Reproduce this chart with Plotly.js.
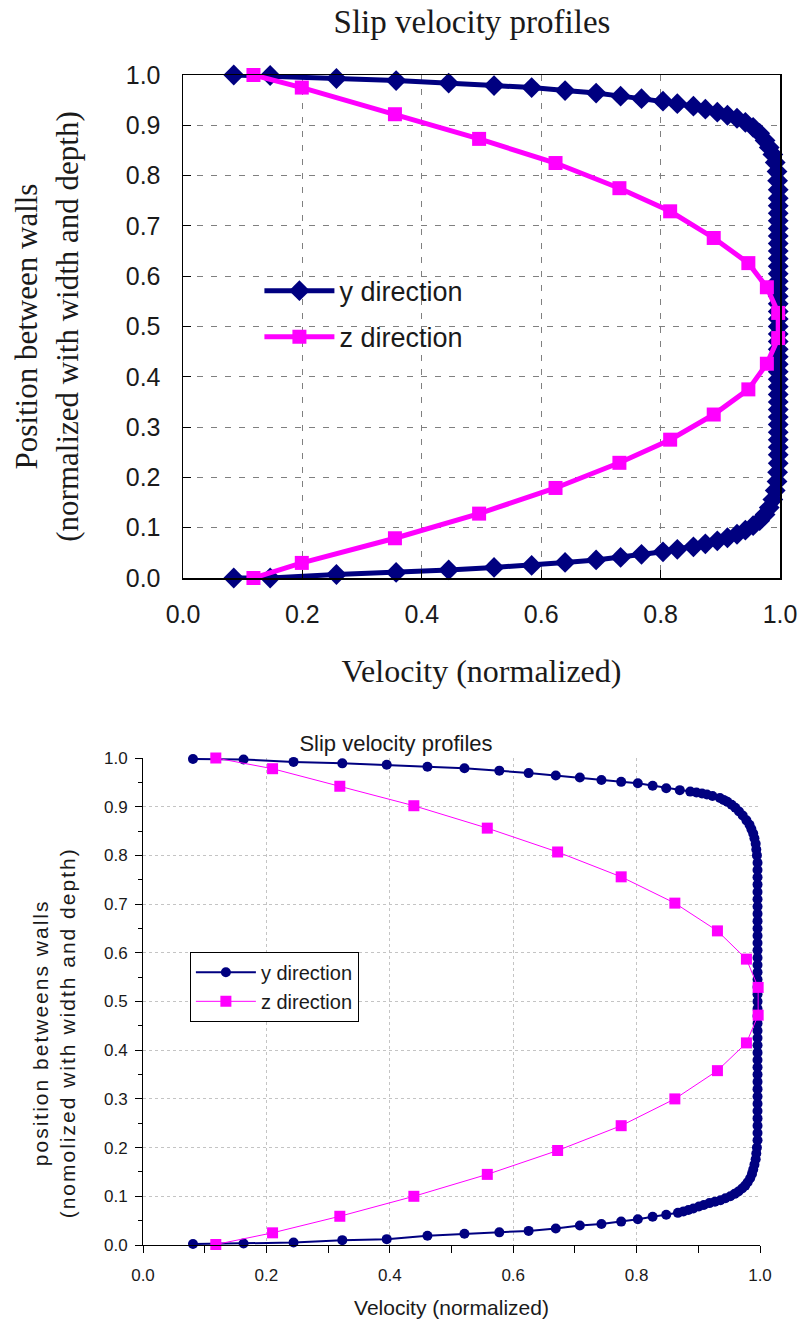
<!DOCTYPE html>
<html>
<head>
<meta charset="utf-8">
<script src="https://cdn.plot.ly/plotly-3.0.1.min.js"></script>
<style>
  html, body { margin: 0; padding: 0; background: #ffffff; }
  #top { position: absolute; left: 0; top: 0; width: 802px; height: 705px; }
  #bottom { position: absolute; left: 0; top: 705px; width: 802px; height: 622px; }
  #bottom .ytitle { letter-spacing: 2px; }
</style>
</head>
<body>
<div id="top"></div>
<div id="bottom"></div>
<script>
// ---------- Upper chart data ----------
const topTitle = "Slip velocity profiles";
const topXTitle = "Velocity (normalized)";
const topYTitle = "Position between walls<br>(normalized with width and depth)";
const seriesNames = ["y direction", "z direction"];

const topYDirVelocity = [
  0.085, 0.146, 0.257, 0.357, 0.445, 0.521, 0.584, 0.640, 0.692, 0.733,
  0.768, 0.804, 0.828, 0.855, 0.875, 0.895, 0.912, 0.928, 0.942, 0.955,
  0.966, 0.975, 0.982, 0.988, 0.992, 0.995, 0.996, 0.997,
  0.997, 0.997, 0.997, 0.997, 0.997, 0.997, 0.997, 0.997, 0.997, 0.997,
  0.997, 0.997, 0.997, 0.997, 0.997, 0.997, 0.997, 0.997, 0.997, 0.997,
  0.997, 0.997, 0.997, 0.997, 0.997, 0.997, 0.997, 0.997, 0.997, 0.997,
  0.997, 0.997, 0.997, 0.997, 0.997,
  0.997, 0.996, 0.995, 0.992, 0.988, 0.982, 0.975, 0.966, 0.955, 0.942,
  0.928, 0.912, 0.895, 0.875, 0.855, 0.828, 0.804, 0.768, 0.733, 0.692,
  0.640, 0.584, 0.521, 0.445, 0.357, 0.257, 0.146, 0.085
];
const topYDirPosition = [
  0.000, 0.000, 0.007, 0.011, 0.016, 0.021, 0.025, 0.031, 0.036, 0.041,
  0.047, 0.052, 0.057, 0.062, 0.068, 0.074, 0.080, 0.087, 0.095, 0.104,
  0.114, 0.126, 0.140, 0.156, 0.174, 0.192, 0.210, 0.228,
  0.245, 0.260, 0.275, 0.290, 0.305, 0.320, 0.335, 0.350, 0.365, 0.380,
  0.395, 0.410, 0.425, 0.440, 0.455, 0.470, 0.485, 0.500, 0.515, 0.530,
  0.545, 0.560, 0.575, 0.590, 0.605, 0.620, 0.635, 0.650, 0.665, 0.680,
  0.695, 0.710, 0.725, 0.740, 0.755,
  0.772, 0.790, 0.808, 0.826, 0.842, 0.856, 0.870, 0.884, 0.896, 0.906,
  0.914, 0.920, 0.926, 0.932, 0.938, 0.943, 0.948, 0.953, 0.958, 0.964,
  0.969, 0.975, 0.979, 0.984, 0.989, 0.993, 0.999, 1.000
];
const topZDirVelocity = [
  0.118, 0.199, 0.355, 0.496, 0.624, 0.731, 0.816, 0.889, 0.947, 0.978, 0.997,
  0.997, 0.978, 0.947, 0.889, 0.816, 0.731, 0.624, 0.496, 0.355, 0.199, 0.118
];
const topZDirPosition = [
  0.000, 0.030, 0.079, 0.128, 0.179, 0.229, 0.275, 0.325, 0.375, 0.426, 0.477,
  0.527, 0.578, 0.626, 0.676, 0.729, 0.775, 0.825, 0.873, 0.922, 0.975, 1.000
];

// ---------- Lower chart data ----------
const botTitle = "Slip velocity profiles";
const botXTitle = "Velocity (normalized)";
const botYTitleLines = ["position betweens walls", "(nomolized with width and depth)"];

const botYDirVelocity = [
  0.081, 0.163, 0.244, 0.323, 0.395, 0.461, 0.521, 0.5775, 0.625, 0.669,
  0.708, 0.743, 0.775, 0.802, 0.826, 0.848, 0.867, 0.876, 0.884, 0.892,
  0.901, 0.909, 0.918, 0.927, 0.936, 0.944, 0.952, 0.959, 0.965, 0.971,
  0.976, 0.980, 0.984, 0.987, 0.989, 0.991, 0.993, 0.994, 0.995,
  0.996, 0.996, 0.996, 0.996, 0.996, 0.996, 0.996, 0.996, 0.996, 0.996,
  0.996, 0.996, 0.996, 0.996, 0.996, 0.996, 0.996, 0.996, 0.996, 0.996,
  0.996, 0.996, 0.996, 0.996, 0.996, 0.996, 0.996, 0.996, 0.996, 0.996,
  0.996, 0.996, 0.996, 0.996, 0.996, 0.996, 0.996, 0.996, 0.996,
  0.995, 0.994, 0.993, 0.991, 0.989, 0.986, 0.983, 0.978, 0.972, 0.966,
  0.960, 0.954, 0.947, 0.941, 0.935, 0.923, 0.914, 0.906, 0.897, 0.887,
  0.870, 0.848, 0.826, 0.802, 0.775, 0.743, 0.708, 0.669, 0.625, 0.5775,
  0.521, 0.461, 0.395, 0.323, 0.244, 0.163, 0.081
];
const botYDirPosition = [
  0.002, 0.003, 0.005, 0.010, 0.012, 0.019, 0.023, 0.026, 0.029, 0.034,
  0.040, 0.043, 0.048, 0.053, 0.058, 0.062, 0.066, 0.069, 0.072, 0.075,
  0.079, 0.082, 0.086, 0.089, 0.092, 0.096, 0.100, 0.105, 0.110, 0.116,
  0.122, 0.129, 0.137, 0.146, 0.155, 0.165, 0.176, 0.188, 0.200,
  0.215, 0.230, 0.245, 0.260, 0.275, 0.290, 0.305, 0.320, 0.335, 0.350,
  0.365, 0.380, 0.395, 0.410, 0.425, 0.440, 0.455, 0.470, 0.485, 0.500,
  0.515, 0.530, 0.545, 0.560, 0.575, 0.590, 0.605, 0.620, 0.635, 0.650,
  0.665, 0.680, 0.695, 0.710, 0.725, 0.740, 0.755, 0.770, 0.785,
  0.800, 0.812, 0.824, 0.835, 0.845, 0.854, 0.863, 0.872, 0.882, 0.890,
  0.898, 0.904, 0.910, 0.914, 0.918, 0.922, 0.925, 0.927, 0.929, 0.931,
  0.934, 0.938, 0.943, 0.948, 0.951, 0.955, 0.960, 0.964, 0.969, 0.974,
  0.979, 0.982, 0.986, 0.989, 0.992, 0.997, 0.998
];
const botZDirVelocity = [
  0.118, 0.210, 0.319, 0.439, 0.558, 0.672, 0.775, 0.862, 0.931, 0.978, 0.997,
  0.997, 0.978, 0.931, 0.862, 0.775, 0.672, 0.558, 0.439, 0.319, 0.210, 0.118
];
const botZDirPosition = [
  0.001, 0.025, 0.059, 0.100, 0.145, 0.194, 0.245, 0.300, 0.358, 0.415, 0.472,
  0.529, 0.587, 0.645, 0.702, 0.756, 0.807, 0.856, 0.902, 0.942, 0.978, 1.000
];

const NAVY = "#000080";
const MAGENTA = "#FF00FF";
const SERIF = "Liberation Serif, Times New Roman, serif";
const SANS = "Liberation Sans, Arial, sans-serif";

// The lower chart's y title sits below the plot centre: pad the top end of each line.
const PAD = "&nbsp;".repeat(8);
const botYTitle = botYTitleLines.map(s => s + PAD).join("<br>");

// ---------- Upper chart ----------
const topTraces = [
  {
    x: topYDirVelocity, y: topYDirPosition, name: seriesNames[0], legendgroup: "y",
    type: "scatter", mode: "lines+markers", cliponaxis: false,
    line: {color: NAVY, width: 5},
    marker: {symbol: "diamond", size: 16, color: NAVY}
  },
  {
    x: topZDirVelocity, y: topZDirPosition, name: seriesNames[1], legendgroup: "z",
    type: "scatter", mode: "lines+markers", cliponaxis: false,
    line: {color: MAGENTA, width: 5},
    marker: {symbol: "square", size: 14, color: MAGENTA}
  }
];
const topAxisCommon = {
  range: [0, 1], autorange: false, showgrid: true, gridcolor: "#808080",
  griddash: "6px,8px", gridwidth: 1, zeroline: false,
  showline: true, mirror: true, linecolor: "#000000", linewidth: 1.5,
  ticks: "inside", ticklen: 8, tickcolor: "#000000", tickwidth: 1,
  tickformat: ".1f", automargin: false,
  tickfont: {family: SANS, size: 25, color: "#1a1a1a"}
};
const topLayout = {
  width: 802, height: 705,
  margin: {l: 183, r: 22, t: 75, b: 127, pad: 0},
  paper_bgcolor: "#ffffff", plot_bgcolor: "#ffffff",
  showlegend: true,
  title: {
    text: topTitle, font: {family: SERIF, size: 33, color: "#1a1a1a"},
    x: 472 / 802, xref: "container", xanchor: "center",
    y: 1 - 21 / 705, yref: "container", yanchor: "middle"
  },
  xaxis: Object.assign({}, topAxisCommon, {
    dtick: 0.2, tick0: 0, ticklabelstandoff: 13,
    title: {text: topXTitle, font: {family: SERIF, size: 32, color: "#1a1a1a"}, standoff: 33}
  }),
  yaxis: Object.assign({}, topAxisCommon, {
    dtick: 0.1, tick0: 0, ticklabelstandoff: 16,
    title: {text: topYTitle, font: {family: SERIF, size: 31, color: "#1a1a1a"}, standoff: 38}
  }),
  legend: {
    x: 0.128, y: 0.619, xanchor: "left", yanchor: "top",
    bgcolor: "rgba(255,255,255,0)", borderwidth: 0,
    font: {family: SANS, size: 27, color: "#1a1a1a"},
    itemwidth: 70, traceorder: "grouped", tracegroupgap: 8
  }
};

// ---------- Lower chart ----------
const botTraces = [
  {
    x: botYDirVelocity, y: botYDirPosition, name: seriesNames[0],
    type: "scatter", mode: "lines+markers", cliponaxis: false,
    line: {color: NAVY, width: 2},
    marker: {symbol: "circle", size: 10, color: NAVY}
  },
  {
    x: botZDirVelocity, y: botZDirPosition, name: seriesNames[1],
    type: "scatter", mode: "lines+markers", cliponaxis: false,
    line: {color: MAGENTA, width: 1},
    marker: {symbol: "square", size: 11, color: MAGENTA}
  }
];
const botAxisCommon = {
  range: [0, 1], autorange: false, showgrid: true, gridcolor: "#c4c4c4",
  griddash: "3px,3px", gridwidth: 1, zeroline: false,
  showline: true, mirror: false, linecolor: "#000000", linewidth: 1,
  ticks: "outside", ticklen: 7, tickcolor: "#000000", tickwidth: 1,
  tickformat: ".1f", automargin: false,
  tickfont: {family: SANS, size: 17, color: "#1a1a1a"}
};
const botLayout = {
  width: 802, height: 622,
  margin: {l: 143, r: 42, t: 53, b: 82, pad: 0},
  paper_bgcolor: "#ffffff", plot_bgcolor: "#ffffff",
  showlegend: true,
  title: {
    text: botTitle, font: {family: SANS, size: 22, color: "#1a1a1a"},
    x: 396 / 802, xref: "container", xanchor: "center",
    y: 1 - 38 / 622, yref: "container", yanchor: "middle"
  },
  xaxis: Object.assign({}, botAxisCommon, {
    dtick: 0.2, tick0: 0, ticklabelstandoff: 8,
    minor: {dtick: 0.1, ticks: "outside", ticklen: 7, tickcolor: "#000000", showgrid: false},
    title: {text: botXTitle, font: {family: SANS, size: 21, color: "#1a1a1a"}, standoff: 15}
  }),
  yaxis: Object.assign({}, botAxisCommon, {
    dtick: 0.1, tick0: 0, ticklabelstandoff: 4,
    minor: {dtick: 0.05, ticks: "outside", ticklen: 4, tickcolor: "#000000", showgrid: false},
    title: {text: botYTitle, font: {family: SANS, size: 21, color: "#1a1a1a"}, standoff: 22}
  }),
  legend: {
    x: 0.076, y: 0.602, xanchor: "left", yanchor: "top",
    bgcolor: "#ffffff", bordercolor: "#000000", borderwidth: 1,
    font: {family: SANS, size: 20, color: "#1a1a1a"},
    itemwidth: 60, tracegroupgap: 0
  }
};

const cfg = {staticPlot: true, displayModeBar: false};
Plotly.newPlot("top", topTraces, topLayout, cfg);
Plotly.newPlot("bottom", botTraces, botLayout, cfg);
</script>
</body>
</html>
